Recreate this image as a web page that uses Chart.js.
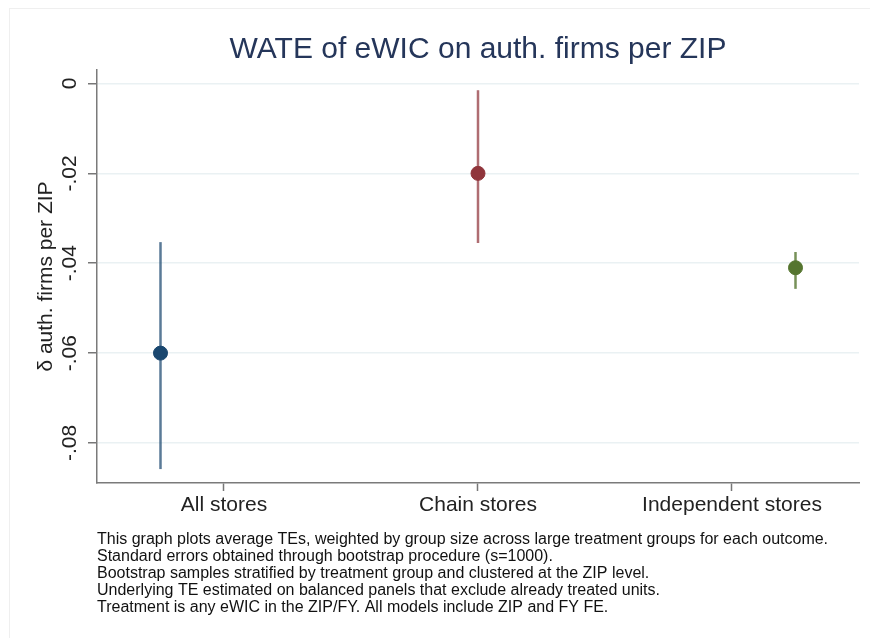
<!DOCTYPE html>
<html>
<head>
<meta charset="utf-8">
<script src="https://cdn.jsdelivr.net/npm/chart.js@4"></script>
<style>
  html, body { margin: 0; padding: 0; background: #fff; }
  #wrap { position: relative; width: 870px; height: 638px; }
  #marco { position: absolute; left: 9px; top: 8px; right: 0; bottom: 0; border: 1px solid #efefef; border-right: none; border-bottom: none; pointer-events: none; }
</style>
</head>
<body>
<div id="wrap">
  <canvas id="grafico" width="870" height="638"></canvas>
  <div id="marco"></div>
</div>
<script>
// Datos
const categorias = ["All stores", "Chain stores", "Independent stores"];
const estimaciones = [-0.060, -0.020, -0.041];
const ciInferior = [-0.0858, -0.0355, -0.0457];
const ciSuperior = [-0.0353, -0.0015, -0.0375];
const colores = ["#1a476f", "#90353b", "#55752f"];
const coloresCI = ["rgba(26,71,111,0.72)", "rgba(144,53,59,0.72)", "rgba(85,117,47,0.8)"];

// Ejes
const xTicks = [1.2, 2, 2.8];
const yTicks = [0, -0.02, -0.04, -0.06, -0.08];
const yTickLabels = ["0", "-.02", "-.04", "-.06", "-.08"];

const notas = [
  "This graph plots average TEs, weighted by group size across large treatment groups for each outcome.",
  "Standard errors obtained through bootstrap procedure (s=1000).",
  "Bootstrap samples stratified by treatment group and clustered at the ZIP level.",
  "Underlying TE estimated on balanced panels that exclude already treated units.",
  "Treatment is any eWIC in the ZIP/FY. All models include ZIP and FY FE."
];

const fuente = "'Liberation Sans', Arial, Helvetica, sans-serif";

// Puntos primero (quedan arriba), luego intervalos
const datasets = [];
categorias.forEach((c, i) => {
  datasets.push({
    label: c,
    data: [{ x: i + 1, y: estimaciones[i] }],
    pointRadius: 7,
    pointHoverRadius: 7,
    backgroundColor: colores[i],
    borderColor: colores[i],
    order: 0
  });
});
categorias.forEach((c, i) => {
  datasets.push({
    label: c + " CI",
    data: [{ x: i + 1, y: ciInferior[i] }, { x: i + 1, y: ciSuperior[i] }],
    showLine: true,
    pointRadius: 0,
    borderColor: coloresCI[i],
    borderWidth: 2.5,
    order: 1
  });
});

const ctx = document.getElementById("grafico").getContext("2d");
const chart = new Chart(ctx, {
  type: "scatter",
  data: { datasets },
  options: {
    responsive: false,
    animation: false,
    layout: { padding: { left: 0, right: 11, top: 0, bottom: 2 } },
    plugins: {
      legend: { display: false },
      tooltip: { enabled: false },
      title: {
        display: true,
        fullSize: false,
        text: "WATE of eWIC on auth. firms per ZIP",
        color: "#25365a",
        font: { family: fuente, size: 30, weight: "normal" },
        padding: { top: 32, bottom: 2 }
      },
      subtitle: {
        display: true,
        position: "bottom",
        fullSize: false,
        align: "start",
        text: notas,
        color: "#111",
        font: { family: fuente, size: 16, weight: "normal", lineHeight: 1.06 },
        padding: { top: 11, bottom: 20 }
      }
    },
    scales: {
      x: {
        type: "linear",
        min: 0.8,
        max: 3.2,
        afterBuildTicks: (s) => { s.ticks = xTicks.map(v => ({ value: v })); },
        ticks: {
          callback: (v, idx) => categorias[idx],
          color: "#222",
          font: { family: fuente, size: 21 },
          padding: 2,
          maxRotation: 0,
          autoSkip: false
        },
        grid: { drawOnChartArea: false, drawTicks: true, tickLength: 8, tickColor: "#777", tickWidth: 1.5 },
        border: { color: "#7a7a7a", width: 1.5 }
      },
      y: {
        min: -0.0889,
        max: 0.003,
        afterBuildTicks: (s) => { s.ticks = yTicks.map(v => ({ value: v })); },
        afterFit: (s) => { s.width = 97; },
        ticks: {
          callback: (v, idx) => yTickLabels[idx],
          color: "#222",
          font: { family: fuente, size: 21 },
          minRotation: 90,
          maxRotation: 90,
          crossAlign: "center",
          padding: 0
        },
        grid: { color: "#eaf1f3", lineWidth: 1.5, tickLength: 9, tickColor: "#777", tickWidth: 1.5 },
        border: { color: "#7a7a7a", width: 1.5 },
        title: {
          display: true,
          text: "δ auth. firms per ZIP",
          color: "#222",
          font: { family: fuente, size: 21 },
          padding: { top: 34, bottom: 0 }
        }
      }
    }
  }
});
</script>
</body>
</html>
